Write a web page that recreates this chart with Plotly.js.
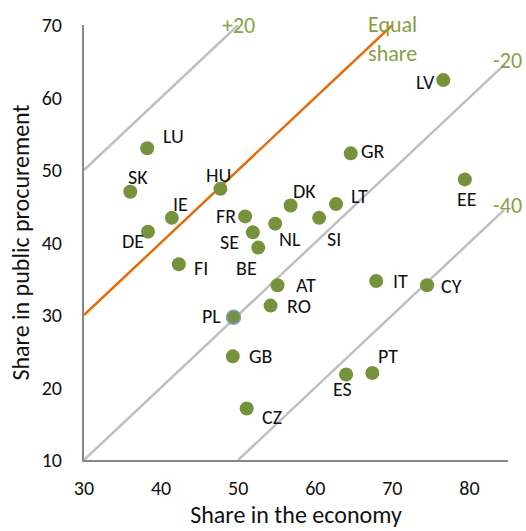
<!DOCTYPE html>
<html>
<head>
<meta charset="utf-8">
<script src="https://cdn.plot.ly/plotly-3.0.1.min.js"></script>
<style>html,body{margin:0;padding:0;background:#fff}#chart{width:526px;height:531px}</style>
</head>
<body>
<div id="chart"></div>
<script>
// Data
const countries = ["LU","SK","IE","DE","HU","FR","SE","BE","FI","NL","DK","SI","LT","GR","LV","EE","PL","GB","CZ","AT","RO","IT","CY","ES","PT"];
const shareEconomy = [38.2,36.0,41.4,38.3,47.7,50.9,51.9,52.6,42.3,54.8,56.8,60.5,62.7,64.6,76.6,79.4,49.4,49.3,51.1,55.1,54.2,67.9,74.5,64.0,67.4];
const shareProcurement = [53.0,47.0,43.4,41.5,47.4,43.6,41.4,39.3,37.0,42.6,45.1,43.4,45.3,52.3,62.4,48.7,29.7,24.3,17.1,34.1,31.3,34.7,34.1,21.8,22.0];
const refLabels = ["+20","Equal<br>share","-20","-40"];
const refOffsets = [20, 0, -20, -40];
const refStartX = [30, 30, 30, 50];
const refEndX = [50, 70, 84.5, 84.5];
const xTicks = [30,40,50,60,70,80];
const yTicks = [10,20,30,40,50,60,70];

// Styles
const FONT = "Carlito, Lato, 'Liberation Sans', sans-serif";
const labelShift = {
  LU:[26,-12], SK:[8,-15], IE:[9,-14], DE:[-15,9], HU:[-2,-14], FR:[-19,0], SE:[-23,10], BE:[-12,20],
  FI:[22,4], NL:[15,15], DK:[14,-15], SI:[15,21], LT:[23,-8], GR:[22,-2], LV:[-18,2], EE:[2,20],
  PL:[-22,-1], GB:[28,0], CZ:[25,8], AT:[28,0], RO:[28,0], IT:[24,0], CY:[24,1], ES:[-4,15], PT:[16,-17]
};
const refColors = ["#bfbfbf","#e46c0a","#bfbfbf","#bfbfbf"];
const refLabelPos = [[0,0],[0,14],[3,-4],[3,-4]];

const traces = [];
refOffsets.forEach((off, i) => {
  traces.push({
    x: [refStartX[i], refEndX[i]],
    y: [refStartX[i] + off, refEndX[i] + off],
    mode: "lines", type: "scatter", hoverinfo: "skip",
    line: {color: refColors[i], width: 2.5},
    cliponaxis: false
  });
});
traces.push({
  x: shareEconomy, y: shareProcurement, mode: "markers", type: "scatter",
  marker: {
    color: "#76923c", size: 14,
    line: {color: countries.map(c => c === "PL" ? "#7f9fd0" : "#76923c"), width: countries.map(c => c === "PL" ? 1.5 : 0)}
  },
  cliponaxis: false
});

const annotations = countries.map((c, i) => ({
  x: shareEconomy[i], y: shareProcurement[i], text: c, showarrow: false,
  xanchor: "center", yanchor: "middle",
  xshift: labelShift[c][0], yshift: -labelShift[c][1],
  font: {family: FONT, size: 20, color: "#111111"}
}));
refLabels.forEach((t, i) => {
  annotations.push({
    x: refEndX[i], y: refEndX[i] + refOffsets[i], text: t, showarrow: false,
    xanchor: "center", yanchor: "middle",
    xshift: refLabelPos[i][0], yshift: -refLabelPos[i][1],
    font: {family: FONT, size: 22, color: "#86a046"}
  });
});

const layout = {
  width: 526, height: 531,
  margin: {l: 83.5, r: 18, t: 25, b: 71.3},
  paper_bgcolor: "#ffffff", plot_bgcolor: "#ffffff",
  showlegend: false,
  font: {family: FONT, size: 20, color: "#111111"},
  xaxis: {
    range: [30, 85], tickvals: xTicks, ticktext: xTicks.map(String),
    showgrid: false, zeroline: false, showline: true, linecolor: "#878787", linewidth: 2,
    ticks: "outside", ticklen: 9, tickcolor: "rgba(0,0,0,0)",
    tickfont: {family: FONT, size: 20, color: "#111111"},
    title: {text: "Share in the economy", font: {family: FONT, size: 24, color: "#111111"}, standoff: 3},
    fixedrange: true
  },
  yaxis: {
    range: [10, 70], tickvals: yTicks, ticktext: yTicks.map(String),
    showgrid: false, zeroline: false, showline: true, linecolor: "#878787", linewidth: 2,
    ticks: "outside", ticklen: 16, tickcolor: "rgba(0,0,0,0)",
    tickfont: {family: FONT, size: 20, color: "#111111"},
    title: {text: "Share in public procurement", font: {family: FONT, size: 24, color: "#111111"}, standoff: 5},
    fixedrange: true
  },
  annotations: annotations
};

Plotly.newPlot("chart", traces, layout, {displayModeBar: false, staticPlot: true});
</script>
</body>
</html>
